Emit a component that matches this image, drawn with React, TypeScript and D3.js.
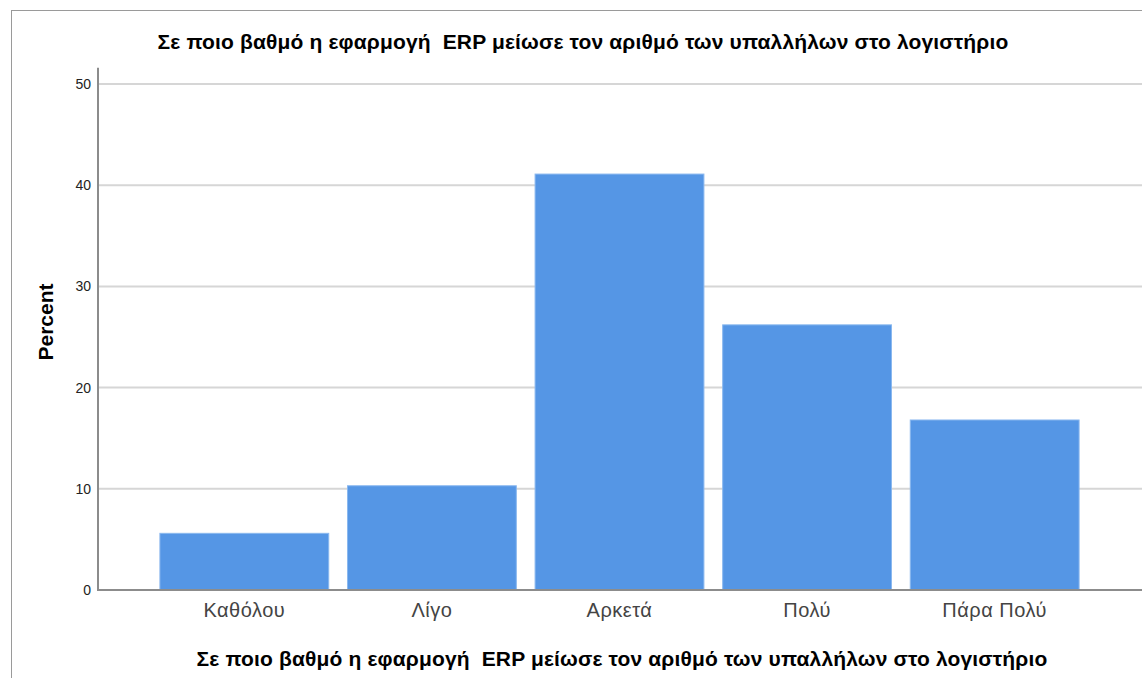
import React from "react";
import * as d3 from "d3";

const categories = ["Καθόλου", "Λίγο", "Αρκετά", "Πολύ", "Πάρα Πολύ"];
const percents = [5.6, 10.3, 41.1, 26.2, 16.8];
const yTicks = [0, 10, 20, 30, 40, 50];
const chartTitle = "Σε ποιο βαθμό η εφαρμογή  ERP μείωσε τον αριθμό των υπαλλήλων στο λογιστήριο";
const yTitle = "Percent";

export default function App() {
  const W = 1142, H = 678;
  const x = d3.scaleBand<string>().domain(categories).range([98, 1141]).paddingInner(0.1).paddingOuter(0.33);
  const y = d3.scaleLinear().domain([0, 50]).range([590, 84]);
  const font = "Arial, 'Liberation Sans', sans-serif";
  return (
    <svg width={W} height={H} style={{ position: "absolute", left: 0, top: 0 }}>
      <rect x={0} y={0} width={W} height={H} fill="#fff" />
      <rect x={11.5} y={10.5} width={W + 20} height={H + 20} fill="none" stroke="#9a9a9a" strokeWidth={1} />
      {yTicks.filter(t => t > 0).map(t => (
        <line key={t} x1={98} x2={W} y1={y(t)} y2={y(t)} stroke="#d6d6d6" strokeWidth={2} />
      ))}
      {categories.map((c, i) => (
        <rect key={c} x={x(c)!} y={y(percents[i])} width={x.bandwidth()} height={y(0) - y(percents[i])}
          fill="#5596e5" stroke="#8ab8ef" strokeWidth={1} />
      ))}
      <line x1={98} x2={98} y1={y(51.6)} y2={y(0) + 1} stroke="#8c8c8c" strokeWidth={2} />
      <line x1={97} x2={W} y1={y(0)} y2={y(0)} stroke="#8c8c8c" strokeWidth={2} />
      {yTicks.map(t => (
        <text key={t} x={91} y={y(t)} dy="0.36em" textAnchor="end" fontFamily={font} fontSize={14} fill="#222">{t}</text>
      ))}
      {categories.map(c => (
        <text key={c} x={x(c)! + x.bandwidth() / 2} y={617} textAnchor="middle" fontFamily={font} fontSize={20} letterSpacing={0.5} fill="#444">{c}</text>
      ))}
      <text x={583} y={49} textAnchor="middle" fontFamily={font} fontSize={21} letterSpacing={0.15} fontWeight="bold" fill="#000" style={{ whiteSpace: "pre" }}>{chartTitle}</text>
      <text x={622} y={666} textAnchor="middle" fontFamily={font} fontSize={21} letterSpacing={0.15} fontWeight="bold" fill="#000" style={{ whiteSpace: "pre" }}>{chartTitle}</text>
      <text transform="translate(53,322) rotate(-90)" textAnchor="middle" fontFamily={font} fontSize={21} fontWeight="bold" fill="#000">{yTitle}</text>
    </svg>
  );
}
